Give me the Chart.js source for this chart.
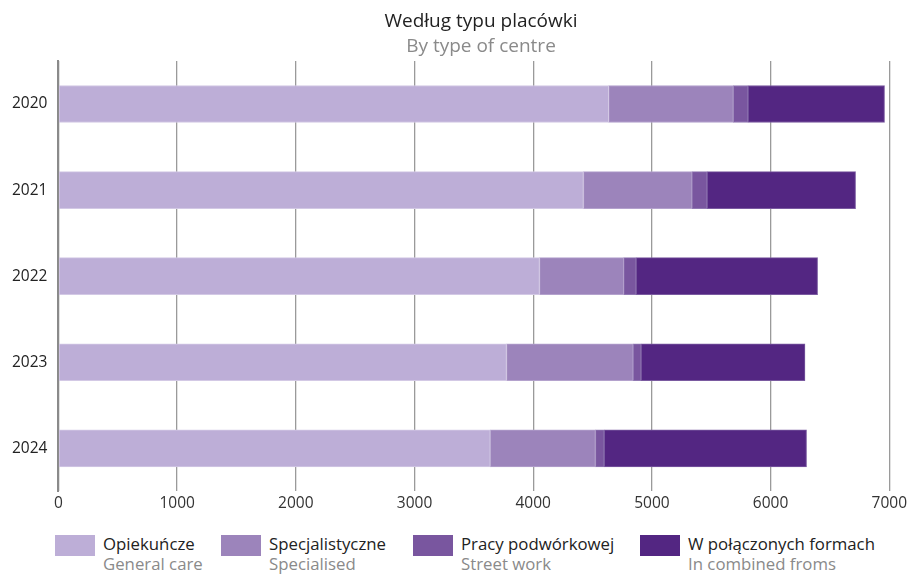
<!DOCTYPE html>
<html lang="pl">
<head>
<meta charset="utf-8">
<script src="https://cdn.jsdelivr.net/npm/chart.js@4/dist/chart.umd.min.js"></script>
<style>
  html, body { margin: 0; padding: 0; background: #fff; }
  #wrap { position: relative; width: 910px; height: 575px; }
  #chart { position: absolute; left: 0; top: 0; }
  .head { position: absolute; left: 381px; width: 200px; text-align: center; white-space: nowrap;
          font-family: "Open Sans", "Noto Sans", sans-serif; font-size: 19px; line-height: 24px; }
  #title { top: 8px; color: #222; }
  #subtitle { top: 33px; color: #8a8a8a; }
  #legend { position: absolute; left: 0; top: 531px; width: 910px; height: 44px;
            font-family: "Open Sans", "Noto Sans", sans-serif; }
  .item { position: absolute; top: 0; }
  .box { position: absolute; left: 0; top: 4px; width: 40px; height: 21px; }
  .txt { position: absolute; left: 48px; top: 3px; white-space: nowrap; line-height: 20px; font-size: 16.8px; }
  .pl { color: #222; }
  .en { color: #8a8a8a; }
</style>
</head>
<body>
<div id="wrap">
  <canvas id="chart" width="910" height="516"></canvas>
  <div id="title" class="head">Według typu placówki</div>
  <div id="subtitle" class="head">By type of centre</div>
  <div id="legend"></div>
</div>
<script>
// Years shown on the category axis
const years = ['2020', '2021', '2022', '2023', '2024'];

// Number of centres per type, stacked per year
const generalCare   = [4636, 4423, 4053, 3775, 3638];
const specialised   = [1050,  915,  710, 1067,  886];
const streetWork    = [ 124,  127,  104,   67,   74];
const combinedForms = [1150, 1251, 1529, 1381, 1705];

// Value axis ticks
const xTicks = [0, 1000, 2000, 3000, 4000, 5000, 6000, 7000];

// Series names (Polish / English)
const namesPl = ['Opiekuńcze', 'Specjalistyczne', 'Pracy podwórkowej', 'W połączonych formach'];
const namesEn = ['General care', 'Specialised', 'Street work', 'In combined froms'];

const colors  = ['#bdaed7', '#9c84bb', '#79569f', '#532682'];
const edges   = ['#d3c9e5', '#b4a2cd', '#9078b2', '#7a5aa0'];
const legendX = [55, 221, 413, 640];

const FONT = '"Open Sans", "Noto Sans", sans-serif';

const seriesValues = [generalCare, specialised, streetWork, combinedForms];
const datasets = seriesValues.map((vals, i) => ({
  label: namesPl[i],
  data: vals,
  backgroundColor: colors[i],
  borderColor: edges[i],
  borderWidth: 1,
  borderSkipped: false,
  barThickness: 37
}));

new Chart(document.getElementById('chart'), {
  type: 'bar',
  data: { labels: years, datasets },
  options: {
    indexAxis: 'y',
    responsive: false,
    animation: false,
    layout: { padding: { left: 1, right: 19, top: 61, bottom: 0 } },
    plugins: {
      legend: { display: false },
      tooltip: { enabled: false }
    },
    scales: {
      x: {
        stacked: true,
        min: 0,
        max: 7000,
        afterBuildTicks: (scale) => { scale.ticks = xTicks.map(v => ({ value: v })); },
        grid: { color: '#9a9a9a', lineWidth: 1.3, drawTicks: false },
        border: { display: false },
        ticks: {
          color: '#333',
          font: { family: FONT, size: 15.5 },
          padding: 3,
          callback: (v) => String(v)
        }
      },
      y: {
        stacked: true,
        grid: { display: false, drawTicks: false },
        border: { display: true, color: '#8a8a8a', width: 2 },
        ticks: { color: '#222', font: { family: FONT, size: 15.5 }, padding: 11 }
      }
    }
  }
});

// Two-line legend built from the series names
const legend = document.getElementById('legend');
namesPl.forEach((name, i) => {
  const item = document.createElement('div');
  item.className = 'item';
  item.style.left = legendX[i] + 'px';
  const box = document.createElement('div');
  box.className = 'box';
  box.style.background = colors[i];
  const txt = document.createElement('div');
  txt.className = 'txt';
  txt.innerHTML = '<div class="pl"></div><div class="en"></div>';
  txt.children[0].textContent = name;
  txt.children[1].textContent = namesEn[i];
  item.appendChild(box);
  item.appendChild(txt);
  legend.appendChild(item);
});
</script>
</body>
</html>
